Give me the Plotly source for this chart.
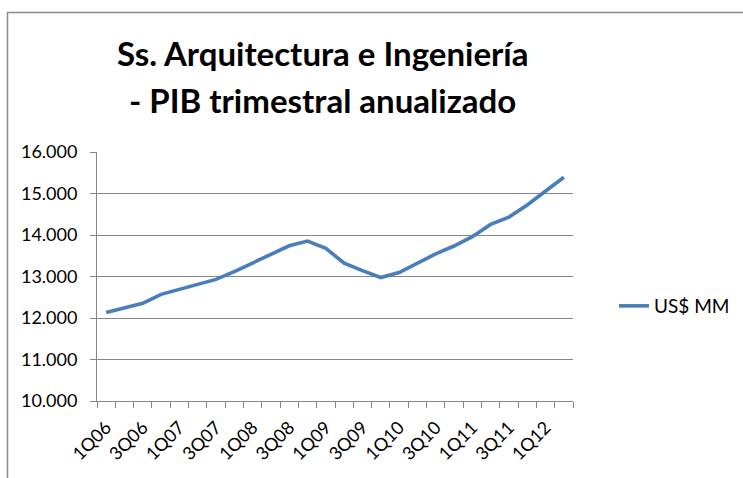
import plotly.graph_objects as go

quarters = ["1Q06", "2Q06", "3Q06", "4Q06", "1Q07", "2Q07", "3Q07", "4Q07",
            "1Q08", "2Q08", "3Q08", "4Q08", "1Q09", "2Q09", "3Q09", "4Q09",
            "1Q10", "2Q10", "3Q10", "4Q10", "1Q11", "2Q11", "3Q11", "4Q11",
            "1Q12", "2Q12"]
values = [12130, 12235, 12355, 12570, 12690, 12820, 12930, 13115,
          13335, 13535, 13740, 13855, 13680, 13320, 13140, 12975,
          13095, 13320, 13545, 13735, 13960, 14255, 14430, 14725,
          15070, 15390]
series_name = "US$ MM"
title_lines = ["Ss. Arquitectura e Ingeniería", "- PIB trimestral anualizado"]
y_ticks = [10000, 11000, 12000, 13000, 14000, 15000, 16000]
y_tick_labels = ["10.000", "11.000", "12.000", "13.000", "14.000", "15.000", "16.000"]

idx = list(range(len(quarters)))

fig = go.Figure()
fig.add_trace(go.Scatter(
    x=idx, y=values, mode="lines", name=series_name,
    line=dict(color="#4a7ebb", width=3.6),
))

W, H = 743, 478
L, R, T, B = 97, 170, 152, 77
pw, ph = W - L - R, H - T - B

def px_x(x):
    return (x - L) / pw

def px_y(y):
    return (H - B - y) / ph

FONT = "Lato, Open Sans, sans-serif"

title_centers_y = [53, 100]
annotations = [
    dict(text="<b>%s</b>" % t, xref="paper", yref="paper",
         x=px_x(322), y=px_y(cy), xanchor="center", yanchor="middle",
         showarrow=False, font=dict(size=33, color="#000000", family=FONT))
    for t, cy in zip(title_lines, title_centers_y)
]

fig.update_layout(
    width=W, height=H,
    margin=dict(l=L, r=R, t=T, b=B, autoexpand=False),
    paper_bgcolor="white", plot_bgcolor="white",
    font=dict(family=FONT, color="#000000"),
    annotations=annotations,
    showlegend=True,
    legend=dict(
        x=px_x(614), xanchor="left", y=px_y(306), yanchor="middle",
        font=dict(size=19, color="#000000"),
        bgcolor="rgba(0,0,0,0)",
    ),
    xaxis=dict(
        range=[-0.5, len(quarters) - 0.5],
        tickmode="array", tickvals=idx[::2], ticktext=quarters[::2],
        tickangle=-45, ticks="outside", ticklen=8, tickcolor="rgba(0,0,0,0)",
        showgrid=False, zeroline=False,
        showline=True, linecolor="#868686", linewidth=1,
        tickfont=dict(size=18, color="#000000"),
        minor=dict(tickvals=[i - 0.5 for i in range(len(quarters) + 1)],
                   ticks="outside", ticklen=6, tickcolor="#868686", tickwidth=1,
                   showgrid=False),
    ),
    yaxis=dict(
        range=[10000, 16000],
        tickmode="array", tickvals=y_ticks, ticktext=y_tick_labels,
        ticks="outside", ticklen=6, tickcolor="#868686",
        ticklabelstandoff=9,
        showgrid=True, gridcolor="#868686", gridwidth=1,
        zeroline=False, showline=True, linecolor="#868686", linewidth=1,
        tickfont=dict(size=18, color="#000000"),
    ),
    shapes=[dict(
        type="rect", xref="paper", yref="paper",
        x0=px_x(7.5), x1=px_x(760), y0=px_y(495), y1=px_y(12.5),
        line=dict(color="#8a8a8a", width=1.5), fillcolor="rgba(0,0,0,0)",
        layer="below",
    )],
)

fig.write_html("out.html", config={"displayModeBar": False},
               post_script="document.body.style.margin='0';")
